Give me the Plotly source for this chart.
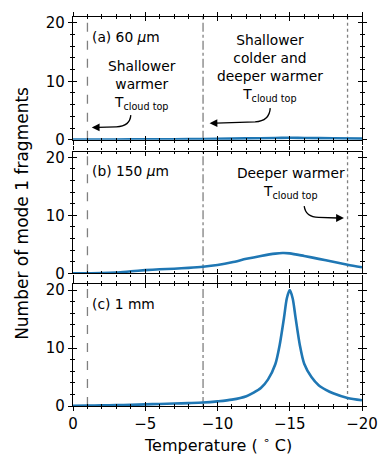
import plotly.graph_objects as go

# ---------------- data ----------------
temp_a = [0, -2, -4, -6, -8, -10, -12, -14, -15, -16, -18, -20]
frag_a = [0.02, 0.03, 0.05, 0.07, 0.1, 0.14, 0.22, 0.3, 0.32, 0.3, 0.24, 0.18]

temp_b = [0, -1, -2, -3, -4, -5, -6, -7, -8, -9, -10, -11, -12, -13, -14, -14.5,
          -15, -16, -17, -18, -19, -20]
frag_b = [0.0, 0.02, 0.05, 0.15, 0.35, 0.55, 0.7, 0.8, 0.95, 1.15, 1.45, 1.9, 2.5,
          3.0, 3.4, 3.5, 3.45, 3.0, 2.5, 2.0, 1.5, 1.05]

temp_c = [0, -1, -2, -3, -4, -5, -6, -7, -8, -9, -10, -11, -12, -12.5, -13, -13.5,
          -14, -14.3, -14.6, -14.8, -15, -15.2, -15.4, -15.7, -16, -16.5, -17,
          -17.5, -18, -19, -20]
frag_c = [0.05, 0.07, 0.1, 0.15, 0.2, 0.28, 0.35, 0.42, 0.5, 0.6, 0.8, 1.1, 1.7,
          2.3, 3.1, 4.6, 7.2, 10.5, 15.2, 18.6, 20.0, 18.6, 15.3, 10.5, 7.3, 5.0,
          3.6, 2.8, 2.2, 1.4, 1.0]

vlines = [-1, -9, -19]
vline_dash = ["dash", "dashdot", "dot"]
x_ticks = [0, -5, -10, -15, -20]
y_ticks = [0, 10, 20]
panel_labels = ["(a) 60 <i>μ</i>m", "(b) 150 <i>μ</i>m", "(c) 1 mm"]

# ---------------- figure ----------------
FONT = "DejaVu Sans"
BLUE = "#1f77b4"
GRAY = "#808080"
TXT = 13.8
domains = [[0.6846, 1.0], [0.341, 0.654], [0.0, 0.3128]]
series = [(temp_a, frag_a), (temp_b, frag_b), (temp_c, frag_c)]
XR = [0, -20]
YR = [0, 21]

fig = go.Figure()
layout = dict(
    width=390, height=454,
    margin=dict(l=73, r=16, t=16, b=48),
    paper_bgcolor="white", plot_bgcolor="white",
    showlegend=False,
    font=dict(family=FONT, color="black"),
)

shapes = []
annotations = []

for i, (xs, ys) in enumerate(series):
    n = i + 1
    xa = "x" if n == 1 else f"x{n}"
    ya = "y" if n == 1 else f"y{n}"
    xk = "xaxis" if n == 1 else f"xaxis{n}"
    yk = "yaxis" if n == 1 else f"yaxis{n}"
    on = n + 3
    oxa, oya = f"x{on}", f"y{on}"
    oxk, oyk = f"xaxis{on}", f"yaxis{on}"

    fig.add_trace(go.Scatter(x=xs, y=ys, mode="lines", xaxis=xa, yaxis=ya,
                             line=dict(color=BLUE, width=2.6, shape="spline", smoothing=0.8),
                             hoverinfo="skip"))
    fig.add_trace(go.Scatter(x=[None], y=[None], mode="lines", xaxis=oxa, yaxis=oya,
                             hoverinfo="skip"))

    common_x = dict(range=XR, tickvals=x_ticks, showgrid=False, zeroline=False,
                    showline=True, linecolor="black", linewidth=1.3, mirror="allticks",
                    tickcolor="black", tickwidth=1.2)
    common_y = dict(range=YR, tickvals=y_ticks, showgrid=False, zeroline=False,
                    showline=True, linecolor="black", linewidth=1.3, mirror="allticks",
                    tickcolor="black", tickwidth=1.2)

    layout[xk] = dict(common_x, anchor=ya, domain=[0, 1], ticks="outside", ticklen=4,
                      showticklabels=(n == 3),
                      tickfont=dict(family=FONT, size=15),
                      minor=dict(dtick=1, tick0=0, ticks="outside", ticklen=2,
                                 tickcolor="black", tickwidth=1),
                      **({} if n == 1 else {"matches": "x"}))
    layout[yk] = dict(common_y, anchor=xa, domain=domains[i], ticks="outside", ticklen=4,
                      tickfont=dict(family=FONT, size=15),
                      minor=dict(dtick=2, tick0=0, ticks="outside", ticklen=2,
                                 tickcolor="black", tickwidth=1))
    layout[oxk] = dict(common_x, anchor=oya, overlaying=xa, ticks="inside", ticklen=4,
                       showticklabels=False,
                       minor=dict(dtick=1, tick0=0, ticks="inside", ticklen=2,
                                  tickcolor="black", tickwidth=1))
    layout[oyk] = dict(common_y, anchor=oxa, overlaying=ya, domain=domains[i],
                       ticks="inside", ticklen=4, showticklabels=False,
                       minor=dict(dtick=2, tick0=0, ticks="inside", ticklen=2,
                                  tickcolor="black", tickwidth=1))

    for xv, dsh in zip(vlines, vline_dash):
        shapes.append(dict(type="line", xref=xa, yref=f"{ya} domain", x0=xv, x1=xv,
                           y0=0, y1=1, line=dict(color=GRAY, width=1.3, dash=dsh),
                           layer="below"))

    annotations.append(dict(xref=xa, yref=ya, x=-1.2, y=17.6, text=panel_labels[i],
                            showarrow=False, xanchor="left", yanchor="middle",
                            font=dict(size=TXT, family=FONT)))

# text blocks
annotations.append(dict(xref="x", yref="y", x=-4.75, y=9.4,
                        text="Shallower<br>warmer<br>T<sub>cloud top</sub>",
                        showarrow=False, align="center", font=dict(size=TXT, family=FONT)))
annotations.append(dict(xref="x", yref="y", x=-13.65, y=12.3,
                        text="Shallower<br>colder and<br>deeper warmer<br>T<sub>cloud top</sub>",
                        showarrow=False, align="center", font=dict(size=TXT, family=FONT)))
annotations.append(dict(xref="x2", yref="y2", x=-15.1, y=15.5,
                        text="Deeper warmer<br>T<sub>cloud top</sub>",
                        showarrow=False, align="center", font=dict(size=TXT, family=FONT)))

# curved arrows: shaft as path, head as annotation
arrows = [
    ("x", "y", "M -4.0,4.2 Q -3.95,2.3 -3.0,2.2 L -1.7,2.1", -1.3, 2.1, -1.8, 2.1),
    ("x", "y", "M -13.65,5.4 Q -13.6,3.2 -12.6,3.05 L -9.9,2.85", -9.45, 2.8, -10.0, 2.82),
    ("x2", "y2", "M -16.0,11.6 Q -16.1,9.7 -17.0,9.65 L -18.3,9.55", -18.75, 9.55, -18.2, 9.55),
]
for xr, yr, path, hx, hy, tx, ty in arrows:
    shapes.append(dict(type="path", xref=xr, yref=yr, path=path,
                       line=dict(color="black", width=1.3)))
    annotations.append(dict(xref=xr, yref=yr, x=hx, y=hy, axref=xr, ayref=yr,
                            ax=tx, ay=ty, text="", showarrow=True, arrowhead=2,
                            arrowsize=1.2, arrowwidth=1.3, arrowcolor="black"))

# axis titles
annotations.append(dict(xref="paper", yref="paper", x=0.5, y=-0.1, yanchor="middle",
                        text="Temperature ( <sup>∘</sup> C)", showarrow=False,
                        font=dict(size=16, family=FONT)))
annotations.append(dict(xref="paper", yref="paper", x=-0.175, y=0.495, xanchor="center",
                        text="Number of mode 1 fragments", showarrow=False, textangle=-90,
                        font=dict(size=17, family=FONT)))

layout["shapes"] = shapes
layout["annotations"] = annotations
fig.update_layout(**layout)

fig.write_html("out.html")
